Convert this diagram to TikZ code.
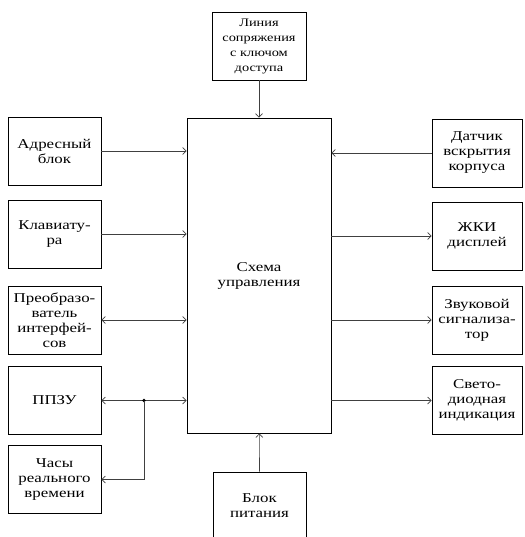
\documentclass[tikz,border=0pt]{standalone}
\usepackage{fontspec}
\setmainfont[FakeStretch=1.25]{Liberation Serif}
\usepackage{tikz}
\usetikzlibrary{calc}
\usetikzlibrary{positioning}
\usetikzlibrary{arrows.meta}

\begin{document}
\begin{tikzpicture}[x=1pt,y=-1pt,
	blk/.style={draw,line width=0.8pt,align=center,inner sep=1pt,
		font=\fontsize{13.5}{15}\selectfont},
	side/.style={blk,minimum width=93pt,minimum height=68pt},
	small/.style={font=\fontsize{11.5}{15}\selectfont},
	link/.style={line width=0.7pt,draw=black!75,->,
		>={Straight Barb[length=3.5pt,width=7pt]}},
	]
		\useasboundingbox (0,0) rectangle (524,537);
		\clip (0,0) rectangle (524,537);
		% control unit and the top and bottom blocks
		\node[blk,minimum width=144pt,minimum height=315pt] (main) at (259,275.5) {Схема\\управления};
		\node[side,small,minimum width=94pt] (line) at (259,46) {Линия\\сопряжения\\с ключом\\доступа};
		\node[side] (power) at (259.5,506) {Блок\\питания};
		% inputs on the left
		\node[side] (addr) at (54.5,151) {Адресный\\блок};
		\node[side] (keys) at (54.5,234) {Клавиату-\\ра};
		\node[side] (conv) at (54.5,320) {Преобразо-\\ватель\\интерфей-\\сов};
		\node[side] (eeprom) at (54.5,400.5) {ППЗУ};
		\node[side] (clock) at (54.5,479.5) {Часы\\реального\\времени};
		% outputs on the right
		\node[side,minimum width=90pt] (sensor) at (477,153) {Датчик\\вскрытия\\корпуса};
		\node[side,minimum width=90pt] (lcd) at (477,236) {ЖКИ\\дисплей};
		\node[side,minimum width=90pt] (buzz) at (477,320) {Звуковой\\сигнализа-\\тор};
		\node[side,minimum width=90pt] (led) at (477,400.5) {Свето-\\диодная\\индикация};
		\coordinate (tap) at (144,400.5);
		\draw[link] (line) -- (main);
		\draw[link] (power) -- (main);
		\draw[link] (addr) -- (addr -| main.west);
		\draw[link] (keys) -- (keys -| main.west);
		\draw[link,<->] (conv) -- (conv -| main.west);
		\draw[link,<->] (eeprom) -- (eeprom -| main.west);
		\fill (tap) circle (1.8pt);
		\draw[link] (tap) |- (clock);
		\draw[link] (sensor) -- (sensor -| main.east);
		\draw[link] (main.east |- lcd) -- (lcd);
		\draw[link] (main.east |- buzz) -- (buzz);
		\draw[link] (main.east |- led) -- (led);
	\end{tikzpicture}
\end{document}
